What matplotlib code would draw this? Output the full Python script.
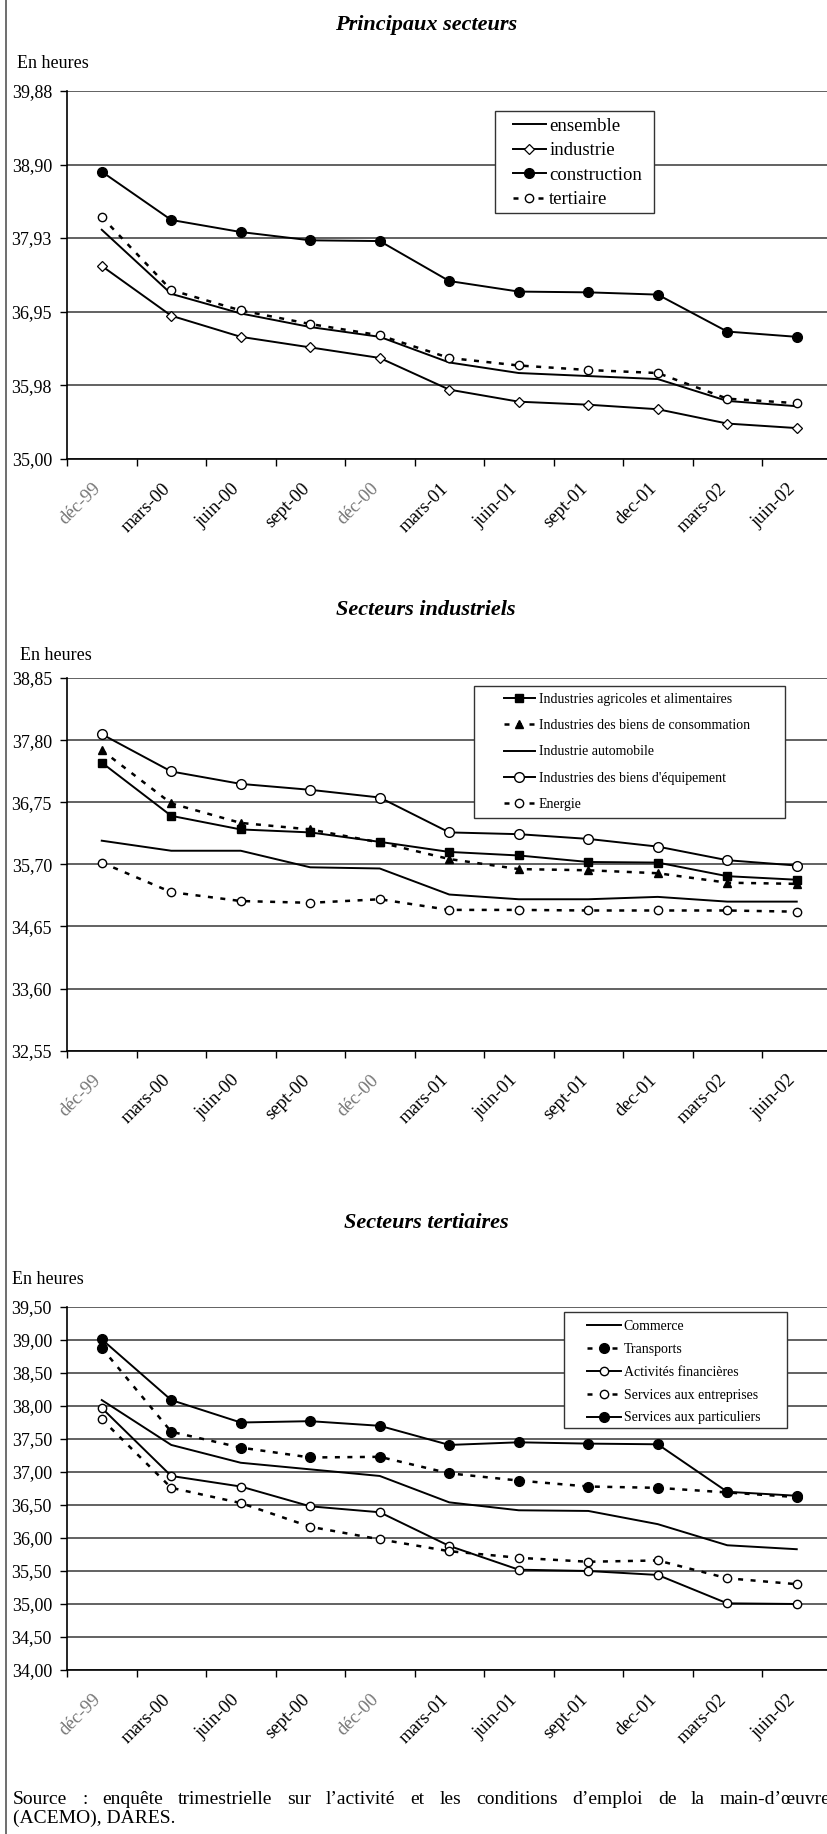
import matplotlib
matplotlib.use('Agg')
import matplotlib.pyplot as plt
from matplotlib.lines import Line2D
from matplotlib.patches import Rectangle
from matplotlib.transforms import ScaledTranslation

plt.rcParams['font.family'] = ['Liberation Serif', 'DejaVu Serif']

W, H = 827, 1834

months = ['déc-99', 'mars-00', 'juin-00', 'sept-00', 'déc-00', 'mars-01',
          'juin-01', 'sept-01', 'dec-01', 'mars-02', 'juin-02']

# Principaux secteurs
ensemble = [38.04, 37.19, 36.93, 36.75, 36.62, 36.28, 36.14, 36.10, 36.06, 35.77, 35.70]
industrie = [37.56, 36.90, 36.62, 36.48, 36.34, 35.92, 35.76, 35.72, 35.66, 35.47, 35.41]
construction = [38.81, 38.17, 38.01, 37.90, 37.89, 37.36, 37.22, 37.21, 37.18, 36.69, 36.62]
tertiaire = [38.21, 37.24, 36.97, 36.79, 36.64, 36.34, 36.24, 36.18, 36.14, 35.80, 35.74]
yticks_1 = [35.00, 35.98, 36.95, 37.93, 38.90, 39.88]
ylabels_1 = ['35,00', '35,98', '36,95', '37,93', '38,90', '39,88']

# Secteurs industriels
iaa = [37.42, 36.52, 36.29, 36.24, 36.08, 35.91, 35.85, 35.74, 35.73, 35.50, 35.44]
biens_conso = [37.63, 36.73, 36.40, 36.29, 36.07, 35.79, 35.62, 35.60, 35.55, 35.39, 35.37]
automobile = [36.10, 35.93, 35.93, 35.65, 35.63, 35.19, 35.11, 35.11, 35.15, 35.07, 35.07]
biens_equip = [37.90, 37.27, 37.06, 36.96, 36.83, 36.24, 36.21, 36.13, 36.00, 35.77, 35.68]
energie = [35.73, 35.23, 35.08, 35.05, 35.11, 34.93, 34.93, 34.92, 34.92, 34.92, 34.90]
yticks_2 = [32.55, 33.60, 34.65, 35.70, 36.75, 37.80, 38.85]
ylabels_2 = ['32,55', '33,60', '34,65', '35,70', '36,75', '37,80', '38,85']

# Secteurs tertiaires
commerce = [38.09, 37.41, 37.14, 37.04, 36.94, 36.54, 36.42, 36.41, 36.21, 35.89, 35.83]
transports = [38.88, 37.61, 37.37, 37.22, 37.23, 36.98, 36.87, 36.78, 36.76, 36.69, 36.62]
financieres = [37.97, 36.94, 36.78, 36.48, 36.39, 35.88, 35.52, 35.50, 35.44, 35.01, 35.00]
serv_entreprises = [37.80, 36.76, 36.53, 36.17, 35.98, 35.80, 35.70, 35.64, 35.66, 35.39, 35.30]
serv_particuliers = [39.01, 38.09, 37.75, 37.77, 37.70, 37.41, 37.45, 37.43, 37.42, 36.70, 36.64]
yticks_3 = [34.0, 34.5, 35.0, 35.5, 36.0, 36.5, 37.0, 37.5, 38.0, 38.5, 39.0, 39.5]
ylabels_3 = ['34,00', '34,50', '35,00', '35,50', '36,00', '36,50', '37,00',
             '37,50', '38,00', '38,50', '39,00', '39,50']

source_line = ("Source : enquête trimestrielle sur l’activité et les conditions "
               "d’emploi de la main-d’œuvre")
source_line2 = "(ACEMO), DARES."

x = list(range(len(months)))
DOT = (0, (2, 3))
LW = 1.4

fig = plt.figure(figsize=(W / 100, H / 100), dpi=100)


def make_axes(top, bottom, yticks, ylabels):
    ax = fig.add_axes([67 / W, 1 - bottom / H, (831.5 - 67) / W, (bottom - top) / H])
    ax.set_xlim(-0.5, 10.5)
    ax.set_ylim(yticks[0], yticks[-1])
    ax.set_yticks(yticks, ylabels)
    ax.set_xticks(x, months)
    ax.set_xticks([i - 0.5 for i in range(12)], minor=True)
    ax.tick_params(axis='x', which='major', length=0, labelsize=13.5, pad=19.5)
    ax.tick_params(axis='x', which='minor', length=5, width=1)
    ax.tick_params(axis='y', length=5, width=1, labelsize=13, pad=5.8)
    ax.yaxis.grid(True, color='#555', lw=1.3)
    ax.set_axisbelow(True)
    for s in ['top', 'right']:
        ax.spines[s].set_visible(False)
    for s in ['left', 'bottom']:
        ax.spines[s].set_linewidth(1.2)
    off = ScaledTranslation(-3.5 / 100, 0, fig.dpi_scale_trans)
    for lab in ax.get_xticklabels():
        lab.set_rotation(45)
        lab.set_ha('right')
        lab.set_va('center')
        lab.set_rotation_mode('anchor')
        lab.set_transform(lab.get_transform() + off)
        if lab.get_text().startswith('déc'):
            lab.set_color('#777')
    return ax


def legend_box(ax, box, hx, ty, fs, hl, htp, ls):
    x0, y0, x1, y1 = box
    rect = Rectangle((x0 / W, 1 - y1 / H), (x1 - x0) / W, (y1 - y0) / H,
                     transform=fig.transFigure, fc='white', ec='#333', lw=1,
                     zorder=4, clip_on=False)
    ax.add_artist(rect)
    leg = ax.legend(loc='upper left', bbox_to_anchor=(hx / W, 1 - ty / H),
                    bbox_transform=fig.transFigure, frameon=False, borderpad=0,
                    borderaxespad=0, fontsize=fs, handlelength=hl,
                    handletextpad=htp, labelspacing=ls, numpoints=1)
    leg.set_zorder(5)


def header(title, ty, ey, ex):
    fig.text(426 / W, 1 - ty / H, title, ha='center', va='center', fontsize=16,
             fontweight='bold', style='italic')
    fig.text(ex / W, 1 - ey / H, 'En heures', ha='left', va='center', fontsize=13)


# --- Principaux secteurs
header('Principaux secteurs', 25, 63, 17)
ax1 = make_axes(91, 459, yticks_1, ylabels_1)
ax1.plot(x, ensemble, color='black', lw=LW, label='ensemble')
ax1.plot(x, industrie, color='black', lw=LW, marker='D', ms=5.5, mfc='white',
         mew=0.9, label='industrie')
ax1.plot(x, construction, color='black', lw=LW, marker='o', ms=7, label='construction')
ax1.plot(x, tertiaire, color='black', lw=1.8, ls=DOT, marker='o', ms=6, mfc='white',
         mew=1, label='tertiaire')
legend_box(ax1, (495, 110.7, 654, 212.7), 512.6, 117.5, 13.5, 1.8, 0.15, 0.4)

# --- Secteurs industriels
header('Secteurs industriels', 610, 655, 20)
ax2 = make_axes(678, 1050.7, yticks_2, ylabels_2)
ax2.plot(x, iaa, color='black', lw=LW, marker='s', ms=6,
         label='Industries agricoles et alimentaires')
ax2.plot(x, biens_conso, color='black', lw=1.8, ls=DOT, marker='^', ms=6,
         label='Industries des biens de consommation')
ax2.plot(x, automobile, color='black', lw=LW, label='Industrie automobile')
ax2.plot(x, biens_equip, color='black', lw=LW, marker='o', ms=7, mfc='white',
         mew=1, label='Industries des biens d\'équipement')
ax2.plot(x, energie, color='black', lw=1.8, ls=DOT, marker='o', ms=6, mfc='white',
         mew=1, label='Energie')
legend_box(ax2, (473.6, 686, 784.8, 818.3), 503.7, 693, 10, 2.25, 0.29, 0.95)

# --- Secteurs tertiaires
header('Secteurs tertiaires', 1223, 1280, 12)
ax3 = make_axes(1307, 1670, yticks_3, ylabels_3)
ax3.plot(x, commerce, color='black', lw=LW, label='Commerce')
ax3.plot(x, transports, color='black', lw=1.8, ls=DOT, marker='o', ms=7,
         label='Transports')
ax3.plot(x, financieres, color='black', lw=LW, marker='o', ms=6, mfc='white',
         mew=1, label='Activités financières')
ax3.plot(x, serv_entreprises, color='black', lw=1.8, ls=DOT, marker='o', ms=6,
         mfc='white', mew=1, label='Services aux entreprises')
ax3.plot(x, serv_particuliers, color='black', lw=LW, marker='o', ms=7,
         label='Services aux particuliers')
legend_box(ax3, (564, 1312.3, 787, 1428.3), 587, 1320, 10, 2.45, 0.2, 0.71)

# page border on the left
fig.add_artist(Line2D([6 / W, 6 / W], [0, 1], transform=fig.transFigure,
                      color='#555', lw=1.2))

# source, justified first line (the last word starts near x=720 and runs off the page)
words = source_line.split(' ')
texts = [fig.text(0, 1 - 1799 / H, w, fontsize=14, va='center') for w in words]
fig.canvas.draw()
r = fig.canvas.get_renderer()
widths = [t.get_window_extent(r).width for t in texts]
gap = (720 - 13 - sum(widths[:-1])) / (len(words) - 1)
pos = 13
for t, w in zip(texts, widths):
    t.set_x(pos / W)
    pos += w + gap
fig.text(13 / W, 1 - 1818 / H, source_line2, fontsize=14, va='center')

fig.savefig('out.png', dpi=100)
